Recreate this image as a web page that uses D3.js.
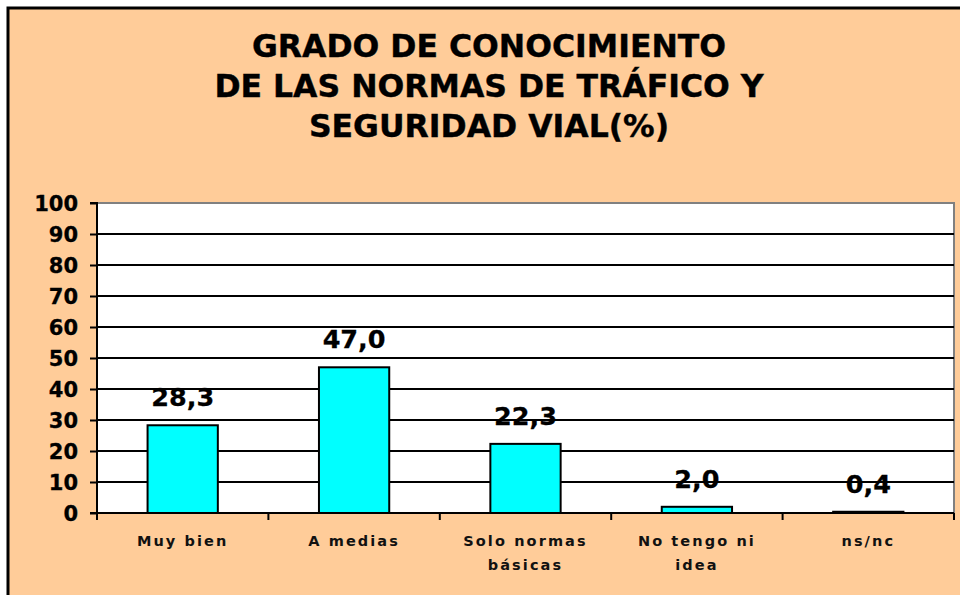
<!DOCTYPE html>
<html>
<head>
<meta charset="utf-8">
<script src="https://cdn.jsdelivr.net/npm/d3@7/dist/d3.min.js"></script>
<style>
html,body{margin:0;padding:0;background:#fff;overflow:hidden;}
svg{display:block;}
</style>
</head>
<body>
<svg id="chart" width="960" height="595"></svg>
<script>
const titleLines = ["GRADO DE CONOCIMIENTO", "DE LAS NORMAS DE TRÁFICO Y", "SEGURIDAD VIAL(%)"];
const categories = [["Muy bien"], ["A medias"], ["Solo normas", "básicas"], ["No tengo ni", "idea"], ["ns/nc"]];
const values = [28.3, 47.0, 22.3, 2.0, 0.4];
const yTicks = [0, 10, 20, 30, 40, 50, 60, 70, 80, 90, 100];

const W = 960, H = 595;
const plot = {left: 97, right: 954, top: 203, bottom: 513};
const font = "'DejaVu Sans', Verdana, sans-serif";

const svg = d3.select("#chart");

// white page, peach chart box with border (only left/top edges fall inside the frame)
svg.append("rect").attr("x", 0).attr("y", 0).attr("width", W).attr("height", H).attr("fill", "#fff");
svg.append("rect").attr("x", 8).attr("y", 8).attr("width", W).attr("height", H).attr("fill", "#FFCC99");
svg.append("path").attr("d", `M8,${H}V8H${W}`)
  .attr("fill", "none").attr("stroke", "#000").attr("stroke-width", 3);

// title
const title = svg.append("text").attr("text-anchor", "middle")
  .attr("font-family", font).attr("font-weight", "bold").attr("font-size", 31.5).attr("fill", "#000")
  .attr("stroke", "#000").attr("stroke-width", 0.4);
titleLines.forEach((t, i) => {
  title.append("tspan").attr("x", 489).attr("y", 57 + i * 40).text(t);
});

const x = d3.scaleBand().domain(d3.range(categories.length))
  .range([plot.left, plot.right]).paddingInner(0.59).paddingOuter(0.295);
const y = d3.scaleLinear().domain([0, 100]).range([plot.bottom, plot.top]);

// plot area
svg.append("rect").attr("x", plot.left).attr("y", plot.top)
  .attr("width", plot.right - plot.left).attr("height", plot.bottom - plot.top)
  .attr("fill", "#fff").attr("stroke", "#808080").attr("stroke-width", 2);

// gridlines
svg.append("g").selectAll("line").data(yTicks.filter(d => d > 0 && d < 100)).join("line")
  .attr("x1", plot.left).attr("x2", plot.right)
  .attr("y1", d => y(d)).attr("y2", d => y(d))
  .attr("stroke", "#000").attr("stroke-width", 2);

// bars
svg.append("g").selectAll("rect").data(values).join("rect")
  .attr("x", (d, i) => x(i)).attr("width", x.bandwidth())
  .attr("y", d => y(d)).attr("height", d => y(0) - y(d))
  .attr("fill", "#00FFFF").attr("stroke", "#000").attr("stroke-width", 2);

// y axis
const yAxis = d3.axisLeft(y).tickValues(yTicks).tickSize(7).tickPadding(12);
const gy = svg.append("g").attr("transform", `translate(${plot.left},0)`).call(yAxis);
gy.select(".domain").attr("stroke", "#000").attr("stroke-width", 2).attr("d", `M-7,${plot.top}H0V${plot.bottom}`);
gy.selectAll(".tick line").attr("stroke", "#000").attr("stroke-width", 2);
gy.selectAll(".tick text").attr("font-family", font).attr("font-weight", "bold")
  .attr("font-size", 21).attr("fill", "#000").attr("dy", "0.36em")
  .attr("stroke", "#000").attr("stroke-width", 0.3);

// x axis line and ticks
const step = x.step();
const boundaries = d3.range(categories.length + 1).map(i => plot.left + i * step);
svg.append("line").attr("x1", plot.left - 7).attr("x2", plot.right)
  .attr("y1", plot.bottom).attr("y2", plot.bottom).attr("stroke", "#000").attr("stroke-width", 2);
svg.append("g").selectAll("line").data(boundaries).join("line")
  .attr("x1", d => d).attr("x2", d => d)
  .attr("y1", plot.bottom).attr("y2", plot.bottom + 7)
  .attr("stroke", "#000").attr("stroke-width", 2);

// x labels
const xl = svg.append("g").selectAll("text").data(categories).join("text")
  .attr("text-anchor", "middle").attr("font-family", font).attr("font-weight", "bold")
  .attr("font-size", 14.5).attr("letter-spacing", 2.1).attr("fill", "#111");
xl.each(function(lines, i) {
  const t = d3.select(this);
  lines.forEach((l, j) => {
    t.append("tspan").attr("x", x(i) + x.bandwidth() / 2).attr("y", 546 + j * 24).text(l);
  });
});

// value labels
const fmt = d3.format(".1f");
svg.append("g").selectAll("text").data(values).join("text")
  .attr("text-anchor", "middle").attr("font-family", font).attr("font-weight", "bold")
  .attr("font-size", 25.5).attr("fill", "#000")
  .attr("stroke", "#000").attr("stroke-width", 0.3)
  .attr("x", (d, i) => x(i) + x.bandwidth() / 2)
  .attr("y", d => y(d) - 19)
  .text(d => fmt(d).replace(".", ","));
</script>
</body>
</html>
